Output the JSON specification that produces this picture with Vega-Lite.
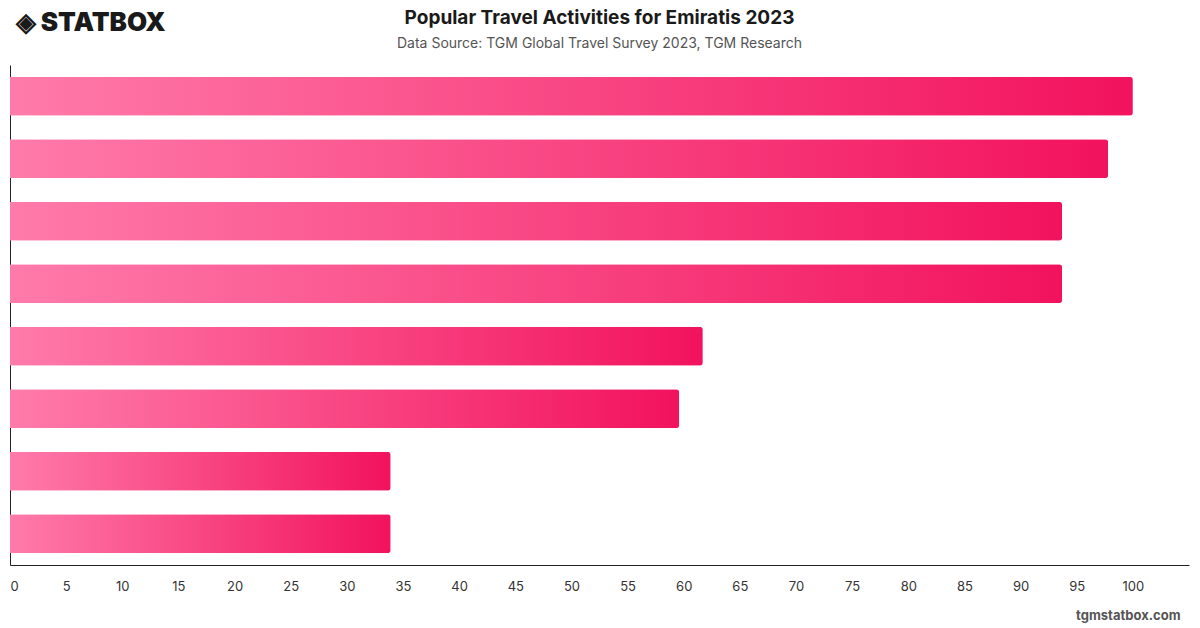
{
  "$schema": "https://vega.github.io/schema/vega-lite/v6.json",
  "autosize": "none",
  "width": 1179,
  "height": 500,
  "padding": {"left": 10, "top": 65, "right": 11, "bottom": 63},
  "background": "#ffffff",
  "title": {
    "text": "Popular Travel Activities for Emiratis 2023",
    "subtitle": "Data Source: TGM Global Travel Survey 2023, TGM Research",
    "anchor": "middle",
    "frame": "group",
    "font": "Inter",
    "fontSize": 19,
    "fontWeight": "bold",
    "color": "#1a1a1a",
    "subtitleFont": "Inter",
    "subtitleFontSize": 14,
    "subtitleColor": "#555555",
    "subtitlePadding": 9,
    "offset": -42
  },
  "data": {
    "values": [
      {"activity": "Shopping", "value": 100},
      {"activity": "Sightseeing", "value": 97.8},
      {"activity": "Dining out", "value": 93.7},
      {"activity": "Beach", "value": 93.7},
      {"activity": "Cultural visits", "value": 61.7},
      {"activity": "Nature", "value": 59.6},
      {"activity": "Theme parks", "value": 33.9},
      {"activity": "Adventure sports", "value": 33.9}
    ]
  },
  "mark": {
    "type": "bar",
    "cornerRadiusEnd": 3,
    "fill": {
      "gradient": "linear",
      "x1": 0, "x2": 1, "y1": 0, "y2": 0,
      "stops": [
        {"offset": 0, "color": "#FF7BA9"},
        {"offset": 1, "color": "#F2125E"}
      ]
    }
  },
  "encoding": {
    "y": {
      "field": "activity",
      "type": "nominal",
      "sort": null,
      "scale": {"paddingInner": 0.376, "paddingOuter": 0.188},
      "axis": {
        "title": "◈ STATBOX",
        "titleAngle": 0,
        "titleX": 5,
        "titleY": -43,
        "titleAlign": "left",
        "titleBaseline": "middle",
        "titleFont": "Inter",
        "titleFontSize": 26,
        "titleFontWeight": 900,
        "titleColor": "#1a1a1a",
        "labels": false,
        "ticks": false,
        "domain": true,
        "domainColor": "#222222",
        "domainWidth": 1,
        "grid": false
      }
    },
    "x": {
      "field": "value",
      "type": "quantitative",
      "scale": {"domain": [0, 105], "nice": false},
      "axis": {
        "values": [0, 5, 10, 15, 20, 25, 30, 35, 40, 45, 50, 55, 60, 65, 70, 75, 80, 85, 90, 95, 100],
        "title": "tgmstatbox.com",
        "titleX": 1170,
        "titleY": 50,
        "titleAlign": "right",
        "titleBaseline": "middle",
        "titleFont": "Inter",
        "titleFontSize": 13,
        "titleFontWeight": "bold",
        "titleColor": "#555555",
        "labelFont": "Inter",
        "labelFontSize": 13,
        "labelColor": "#333333",
        "labelPadding": 15,
        "ticks": false,
        "grid": false,
        "domainColor": "#222222",
        "domainWidth": 1
      }
    }
  },
  "config": {"view": {"stroke": null}}
}
